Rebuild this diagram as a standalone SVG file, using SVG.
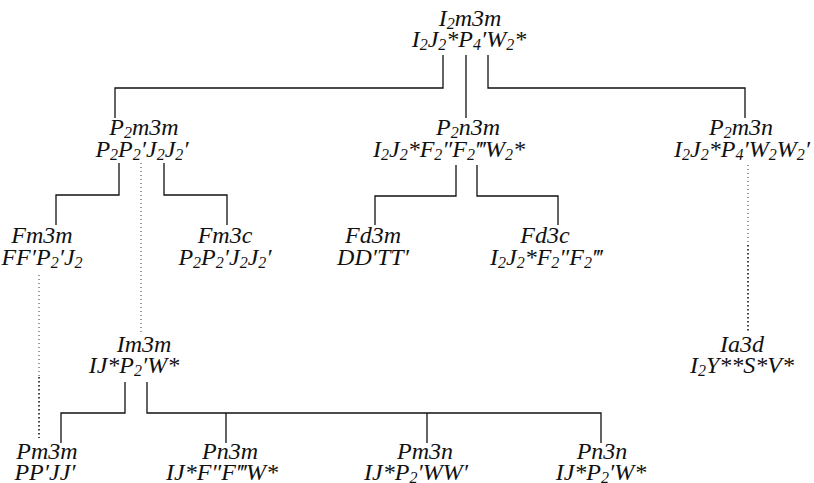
<svg xmlns="http://www.w3.org/2000/svg" width="814" height="483" viewBox="0 0 814 483">
<style>
text{font-family:"Liberation Serif","Times New Roman",serif;font-style:italic;font-size:24px;fill:#111;text-anchor:middle}
.s{font-size:16px}
.ln{fill:none;stroke:#111;stroke-width:1.3}
.dl{fill:none;stroke:#333;stroke-width:1;stroke-dasharray:1 3}
.dh{fill:none;stroke:#111;stroke-width:1.6;stroke-dasharray:1.5 2.5}
</style>
<rect width="814" height="483" fill="#fff"/>
<g id="connectors">
<path class="ln" d="M443,55 V88 H115 V118"/>
<path class="ln" d="M466,55 V118"/>
<path class="ln" d="M488,55 V88 H745 V118"/>
<path class="ln" d="M119,163 V195 H56 V225"/>
<path class="ln" d="M164,163 V195 H227 V225"/>
<path class="ln" d="M456,165 V196 H375 V225"/>
<path class="ln" d="M477,165 V196 H558 V225"/>
<path class="ln" d="M125,382 V413 H61 V443"/>
<path class="ln" d="M147,382 V413 H601 V443"/>
<path class="ln" d="M226,413 V443"/>
<path class="ln" d="M427,413 V443"/>
<path class="dl" d="M141,163 V332"/>
<path class="dl" d="M39,275 V377"/>
<path class="dh" d="M39,377 V438"/>
<path class="dl" d="M748,165 V245"/>
<path class="dh" d="M748,245 V333"/>
</g>
<g id="I2m3m">
<text x="470" y="26">I<tspan class="s" dy="3">2</tspan><tspan dy="-3">m3m</tspan></text>
<text x="469" y="47">I<tspan class="s" dy="3">2</tspan><tspan dy="-3">J</tspan><tspan class="s" dy="3">2</tspan><tspan dy="-3">*P</tspan><tspan class="s" dy="3">4</tspan><tspan dy="-3">′W</tspan><tspan class="s" dy="3">2</tspan><tspan dy="-3">*</tspan></text>
</g>
<g id="P2m3m">
<text x="144" y="135">P<tspan class="s" dy="3">2</tspan><tspan dy="-3">m3m</tspan></text>
<text x="142" y="157">P<tspan class="s" dy="3">2</tspan><tspan dy="-3">P</tspan><tspan class="s" dy="3">2</tspan><tspan dy="-3">′J</tspan><tspan class="s" dy="3">2</tspan><tspan dy="-3">J</tspan><tspan class="s" dy="3">2</tspan><tspan dy="-3">′</tspan></text>
</g>
<g id="P2n3m">
<text x="468" y="135">P<tspan class="s" dy="3">2</tspan><tspan dy="-3">n3m</tspan></text>
<text x="449" y="157">I<tspan class="s" dy="3">2</tspan><tspan dy="-3">J</tspan><tspan class="s" dy="3">2</tspan><tspan dy="-3">*F</tspan><tspan class="s" dy="3">2</tspan><tspan dy="-3">″F</tspan><tspan class="s" dy="3">2</tspan><tspan dy="-3">‴W</tspan><tspan class="s" dy="3">2</tspan><tspan dy="-3">*</tspan></text>
</g>
<g id="P2m3n">
<text x="741" y="135">P<tspan class="s" dy="3">2</tspan><tspan dy="-3">m3n</tspan></text>
<text x="742" y="157">I<tspan class="s" dy="3">2</tspan><tspan dy="-3">J</tspan><tspan class="s" dy="3">2</tspan><tspan dy="-3">*P</tspan><tspan class="s" dy="3">4</tspan><tspan dy="-3">′W</tspan><tspan class="s" dy="3">2</tspan><tspan dy="-3">W</tspan><tspan class="s" dy="3">2</tspan><tspan dy="-3">′</tspan></text>
</g>
<g id="Fm3m">
<text x="42" y="243">Fm3m</text>
<text x="42" y="265">FF′P<tspan class="s" dy="3">2</tspan><tspan dy="-3">′J</tspan><tspan class="s" dy="3">2</tspan></text>
</g>
<g id="Fm3c">
<text x="225" y="243">Fm3c</text>
<text x="225" y="265">P<tspan class="s" dy="3">2</tspan><tspan dy="-3">P</tspan><tspan class="s" dy="3">2</tspan><tspan dy="-3">′J</tspan><tspan class="s" dy="3">2</tspan><tspan dy="-3">J</tspan><tspan class="s" dy="3">2</tspan><tspan dy="-3">′</tspan></text>
</g>
<g id="Fd3m">
<text x="373" y="243">Fd3m</text>
<text x="373" y="265">DD′TT′</text>
</g>
<g id="Fd3c">
<text x="545" y="243">Fd3c</text>
<text x="546" y="265">I<tspan class="s" dy="3">2</tspan><tspan dy="-3">J</tspan><tspan class="s" dy="3">2</tspan><tspan dy="-3">*F</tspan><tspan class="s" dy="3">2</tspan><tspan dy="-3">″F</tspan><tspan class="s" dy="3">2</tspan><tspan dy="-3">‴</tspan></text>
</g>
<g id="Im3m">
<text x="144" y="352">Im3m</text>
<text x="134" y="373">IJ*P<tspan class="s" dy="3">2</tspan><tspan dy="-3">′W*</tspan></text>
</g>
<g id="Ia3d">
<text x="742" y="352">Ia3d</text>
<text x="742" y="373">I<tspan class="s" dy="3">2</tspan><tspan dy="-3">Y**S*V*</tspan></text>
</g>
<g id="Pm3m">
<text x="47" y="459">Pm3m</text>
<text x="45" y="480">PP′JJ′</text>
</g>
<g id="Pn3m">
<text x="230" y="459">Pn3m</text>
<text x="222" y="480">IJ*F″F‴W*</text>
</g>
<g id="Pm3n">
<text x="425" y="459">Pm3n</text>
<text x="416" y="480">IJ*P<tspan class="s" dy="3">2</tspan><tspan dy="-3">′WW′</tspan></text>
</g>
<g id="Pn3n">
<text x="602" y="459">Pn3n</text>
<text x="601" y="480">IJ*P<tspan class="s" dy="3">2</tspan><tspan dy="-3">′W*</tspan></text>
</g>
</svg>
